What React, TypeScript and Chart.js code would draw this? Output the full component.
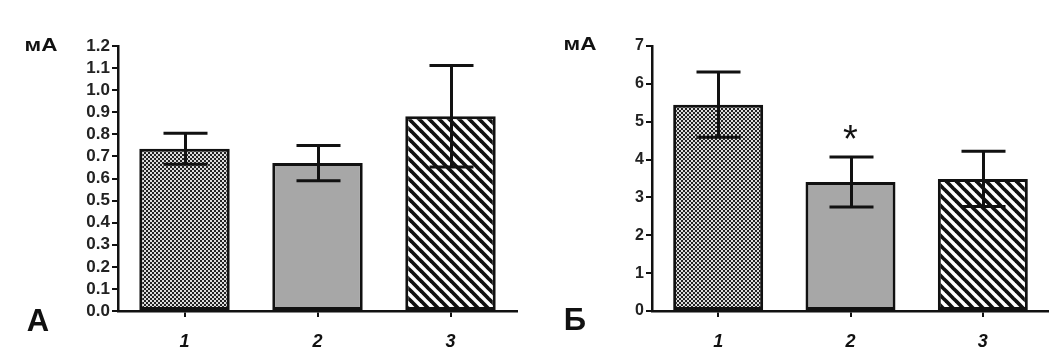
import React, { useEffect, useRef } from "react";
import { Chart, registerables } from "chart.js";

Chart.register(...registerables);

const categories = ["1", "2", "3"];

const leftValues = [0.735, 0.67, 0.882];
const leftErrors = [0.07, 0.08, 0.23];
const leftTicks = { min: 0, max: 1.2, step: 0.1, decimals: 1 };

const rightValues = [5.45, 3.41, 3.49];
const rightErrors = [0.86, 0.66, 0.73];
const rightTicks = { min: 0, max: 7, step: 1, decimals: 0 };

const unitLabel = "мА";
const leftPanelLetter = "А";
const rightPanelLetter = "Б";
const significanceMark = "*";
const significantIndex = 1;
const significanceValue = 4.72;

const FONT = "'Liberation Sans', Arial, sans-serif";

function makeChecker(): CanvasPattern | string {
  const c = document.createElement("canvas");
  c.width = 4;
  c.height = 4;
  const g = c.getContext("2d");
  if (!g) return "#808080";
  g.fillStyle = "#dcdcdc";
  g.fillRect(0, 0, 4, 4);
  g.fillStyle = "#222222";
  g.fillRect(0, 0, 2, 2);
  g.fillRect(2, 2, 2, 2);
  return g.createPattern(c, "repeat") || "#808080";
}

function makeStripes(): CanvasPattern | string {
  const s = 10;
  const c = document.createElement("canvas");
  c.width = s;
  c.height = s;
  const g = c.getContext("2d");
  if (!g) return "#808080";
  g.fillStyle = "#ffffff";
  g.fillRect(0, 0, s, s);
  g.strokeStyle = "#111111";
  g.lineWidth = 3.7;
  g.lineCap = "square";
  for (const off of [-s, 0, s]) {
    g.beginPath();
    g.moveTo(off - 2, -2);
    g.lineTo(off + s + 2, s + 2);
    g.stroke();
  }
  return g.createPattern(c, "repeat") || "#808080";
}

type PanelProps = {
  values: number[];
  errors: number[];
  ticks: { min: number; max: number; step: number; decimals: number };
  tickFont: number;
  yAxisWidth: number;
  padRight: number;
  width: number;
  left: number;
  unitPos: [number, number];
  letter: string;
  letterPos: [number, number];
  star: boolean;
};

function Panel(p: PanelProps) {
  const ref = useRef<HTMLCanvasElement | null>(null);
  useEffect(() => {
    if (!ref.current) return;
    const fills = [makeChecker(), "#a7a7a7", makeStripes()];

    const errorBars = {
      id: "errorBars",
      afterDatasetsDraw(chart: any) {
        const ctx = chart.ctx;
        const meta = chart.getDatasetMeta(0);
        const ys = chart.scales.y;
        ctx.save();
        ctx.strokeStyle = "#111";
        ctx.lineWidth = 3;
        ctx.lineCap = "butt";
        meta.data.forEach((bar: any, i: number) => {
          const v = p.values[i];
          const e = p.errors[i];
          const yHi = ys.getPixelForValue(v + e);
          const yLo = ys.getPixelForValue(v - e);
          const x = Math.round(bar.x) + 0.5;
          const cap = 22;
          ctx.beginPath();
          ctx.moveTo(x, yHi);
          ctx.lineTo(x, yLo);
          ctx.moveTo(x - cap, yHi);
          ctx.lineTo(x + cap, yHi);
          ctx.moveTo(x - cap, yLo);
          ctx.lineTo(x + cap, yLo);
          ctx.stroke();
        });
        if (p.star) {
          const bar = meta.data[significantIndex];
          const cy = ys.getPixelForValue(significanceValue);
          ctx.fillStyle = "#111";
          ctx.font = `38px ${FONT}`;
          ctx.textAlign = "center";
          ctx.textBaseline = "alphabetic";
          const m = ctx.measureText(significanceMark);
          const asc = m.actualBoundingBoxAscent || 27;
          const desc = m.actualBoundingBoxDescent || -12;
          ctx.fillText(significanceMark, bar.x, cy + (asc - desc) / 2);
        }
        ctx.restore();
      },
      afterDraw(chart: any) {
        const ctx = chart.ctx;
        ctx.save();
        ctx.fillStyle = "#111";
        ctx.textAlign = "center";
        ctx.textBaseline = "middle";
        ctx.save();
        ctx.translate(p.unitPos[0], p.unitPos[1]);
        ctx.scale(1.25, 1);
        ctx.font = `bold 18px ${FONT}`;
        ctx.fillText(unitLabel, 0, 0);
        ctx.restore();
        ctx.font = `bold 31px ${FONT}`;
        ctx.fillText(p.letter, p.letterPos[0], p.letterPos[1]);
        ctx.restore();
      },
    };

    const chart = new Chart(ref.current, {
      type: "bar",
      data: {
        labels: categories,
        datasets: [
          {
            data: p.values,
            backgroundColor: fills as any,
            borderColor: "#111",
            borderWidth: 3,
            borderSkipped: false,
            categoryPercentage: 1,
            barPercentage: 0.68,
          },
        ],
      },
      options: {
        responsive: false,
        animation: false,
        layout: { padding: { top: 46, right: p.padRight, left: 0, bottom: 0 } },
        plugins: {
          legend: { display: false },
          tooltip: { enabled: false },
        },
        scales: {
          x: {
            offset: true,
            grid: {
              offset: false,
              drawOnChartArea: false,
              drawTicks: true,
              tickLength: 6,
              color: "#111",
              lineWidth: 2,
            },
            border: { color: "#111", width: 2.5 },
            ticks: {
              color: "#111",
              padding: 14,
              font: { family: FONT, size: 18, weight: "bold", style: "italic" },
            },
            afterFit(scale: any) {
              scale.height = 43;
            },
          },
          y: {
            min: p.ticks.min,
            max: p.ticks.max,
            grid: {
              drawOnChartArea: false,
              drawTicks: true,
              tickLength: 6,
              color: "#111",
              lineWidth: 2,
            },
            border: { color: "#111", width: 2.5 },
            ticks: {
              stepSize: p.ticks.step,
              autoSkip: false,
              color: "#222",
              padding: 2,
              font: { family: FONT, size: p.tickFont, weight: "bold" },
              callback: (v: any) => Number(v).toFixed(p.ticks.decimals),
            },
            afterFit(scale: any) {
              scale.width = p.yAxisWidth;
            },
          },
        },
      },
      plugins: [errorBars],
    } as any);
    return () => chart.destroy();
  }, []);
  return (
    <canvas
      ref={ref}
      width={p.width}
      height={354}
      style={{ position: "absolute", left: p.left, top: 0, width: p.width, height: 354, display: "block" }}
    />
  );
}

export default function App() {
  return (
    <div style={{ position: "fixed", left: 0, top: 0, width: 1049, height: 354, background: "#fff", overflow: "hidden" }}>
      <Panel
        values={leftValues}
        errors={leftErrors}
        ticks={leftTicks}
        tickFont={17}
        yAxisWidth={118}
        padRight={8}
        width={525}
        left={0}
        unitPos={[41, 46]}
        letter={leftPanelLetter}
        letterPos={[38, 322]}
        star={false}
      />
      <Panel
        values={rightValues}
        errors={rightErrors}
        ticks={rightTicks}
        tickFont={16}
        yAxisWidth={127}
        padRight={0}
        width={524}
        left={525}
        unitPos={[55, 45]}
        letter={rightPanelLetter}
        letterPos={[50, 321]}
        star={true}
      />
    </div>
  );
}
